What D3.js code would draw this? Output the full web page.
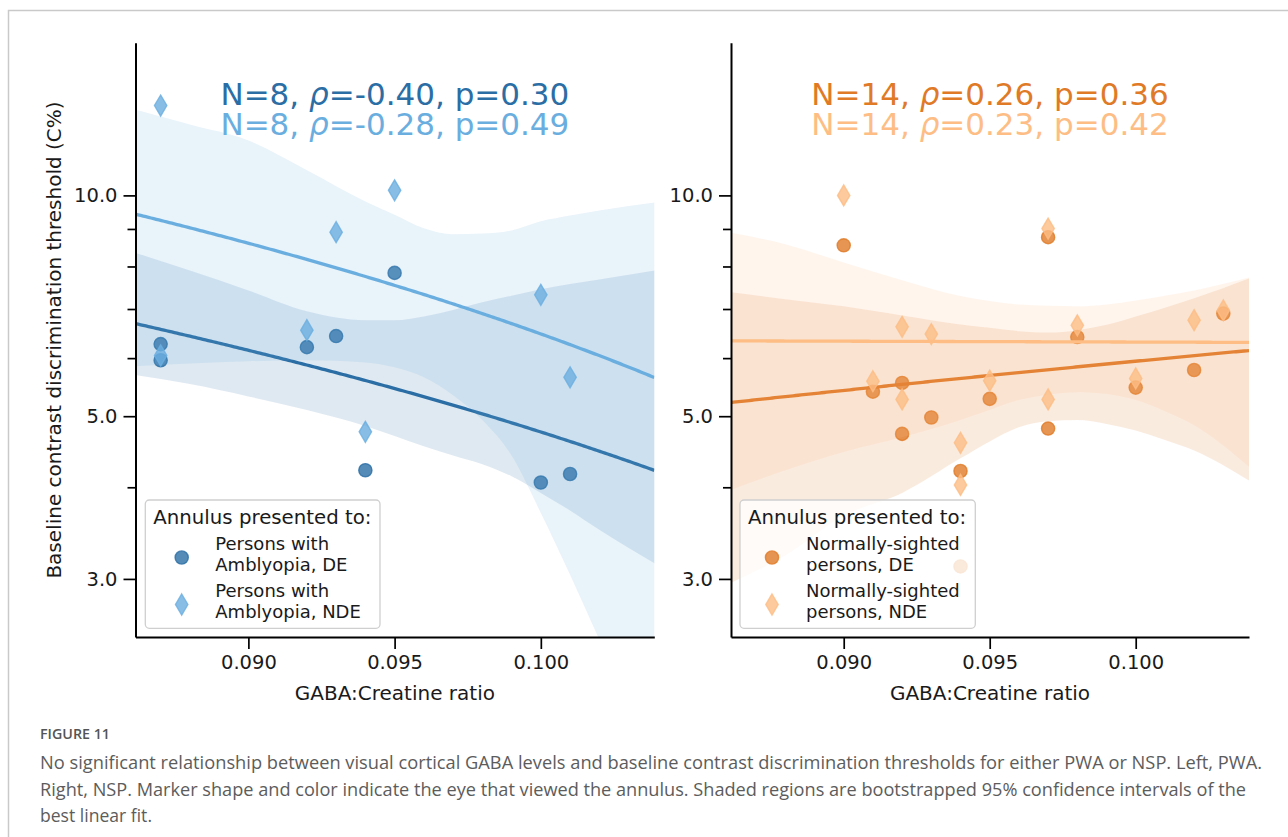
<!DOCTYPE html>
<html><head><meta charset="utf-8">
<script src="https://cdn.jsdelivr.net/npm/d3@7"></script>
<style>
body{margin:0;background:#fff;}
svg{display:block;font-family:"DejaVu Sans",sans-serif;}
</style></head><body>
<svg id="chart" width="1288" height="837"></svg>
<script>
// ---------------- data ----------------
const xTicks = [0.090, 0.095, 0.100];
const yMajorTicks = [3, 5, 10];
const yMinorTicks = [4, 6, 7, 8, 9];

// Persons with amblyopia (left panel)
const pwaDE_x  = [0.087, 0.087, 0.092, 0.093, 0.094, 0.095, 0.100, 0.101];
const pwaDE_y  = [6.27, 5.96, 6.21, 6.43, 4.22, 7.84, 4.06, 4.17];
const pwaNDE_x = [0.087, 0.087, 0.092, 0.093, 0.094, 0.095, 0.100, 0.101];
const pwaNDE_y = [13.26, 6.05, 6.55, 8.91, 4.76, 10.16, 7.32, 5.65];

// Normally-sighted persons (right panel)
const nspDE_x  = [0.090, 0.091, 0.092, 0.092, 0.093, 0.094, 0.094, 0.095, 0.097, 0.097, 0.098, 0.100, 0.102, 0.103];
const nspDE_y  = [8.55, 5.40, 5.55, 4.73, 4.98, 4.21, 3.12, 5.28, 8.77, 4.81, 6.41, 5.47, 5.78, 6.90];
const nspNDE_x = [0.090, 0.091, 0.092, 0.092, 0.093, 0.094, 0.094, 0.095, 0.097, 0.097, 0.098, 0.100, 0.102, 0.103];
const nspNDE_y = [10.0, 5.58, 6.62, 5.27, 6.47, 4.60, 4.03, 5.59, 9.01, 5.27, 6.65, 5.63, 6.76, 6.97];

// bootstrapped 95% CI bands
const bandX = [0.0861, 0.088, 0.090, 0.092, 0.094, 0.095, 0.096, 0.097, 0.098, 0.099, 0.100, 0.101, 0.102, 0.1039];
const pwaDE_hi  = [8.36, 7.90, 7.42, 6.95, 6.76, 6.76, 6.84, 6.98, 7.15, 7.30, 7.45, 7.57, 7.68, 7.90];
const pwaDE_lo  = [5.69, 5.53, 5.32, 5.10, 4.85, 4.70, 4.55, 4.42, 4.30, 4.14, 3.93, 3.72, 3.50, 3.15];
const pwaNDE_hi = [13.1, 12.49, 11.88, 10.82, 9.81, 9.41, 9.02, 8.85, 8.87, 8.96, 9.22, 9.39, 9.54, 9.78];
const pwaNDE_lo = [5.85, 5.90, 5.94, 5.96, 5.92, 5.83, 5.65, 5.34, 4.94, 4.42, 3.69, 3.04, 2.48, 1.70];
const nspDE_hi  = [7.38, 7.22, 7.06, 6.86, 6.67, 6.60, 6.53, 6.50, 6.55, 6.66, 6.84, 7.03, 7.24, 7.71];
const nspDE_lo  = [2.96, 3.23, 3.66, 3.93, 4.38, 4.62, 4.83, 4.92, 4.94, 4.88, 4.78, 4.64, 4.49, 4.08];
const nspNDE_hi = [8.90, 8.58, 8.10, 7.66, 7.29, 7.18, 7.10, 7.07, 7.06, 7.10, 7.19, 7.30, 7.42, 7.73];
const nspNDE_lo = [3.96, 4.22, 4.47, 4.68, 4.94, 5.10, 5.26, 5.35, 5.39, 5.36, 5.26, 5.08, 4.86, 4.26];

const statsPWA = [["N=8, ", "=-0.40, p=0.30"], ["N=8, ", "=-0.28, p=0.49"]];
const statsNSP = [["N=14, ", "=0.26, p=0.36"], ["N=14, ", "=0.23, p=0.42"]];
const legendPWA = [["Persons with", "Amblyopia, DE"], ["Persons with", "Amblyopia, NDE"]];
const legendNSP = [["Normally-sighted", "persons, DE"], ["Normally-sighted", "persons, NDE"]];

const captionLines = [
  "No significant relationship between visual cortical GABA levels and baseline contrast discrimination thresholds for either PWA or NSP. Left, PWA.",
  "Right, NSP. Marker shape and color indicate the eye that viewed the annulus. Shaded regions are bootstrapped 95% confidence intervals of the",
  "best linear fit."
];

// ---------------- layout ----------------
const svg = d3.select("#chart");
const plotTop = 42.7, plotBottom = 637;
const xDomain = [0.08614, 0.10388];
const yDomain = [2.5, 16.15];

svg.append("path").attr("d", "M8.5,837 V10.5 H1288")
  .attr("fill", "none").attr("stroke", "#c9c9c9").attr("stroke-width", 1.5);

function ols(xs, ys) {
  const mx = d3.mean(xs), my = d3.mean(ys);
  let sxy = 0, sxx = 0;
  xs.forEach((v, i) => { sxy += (v - mx) * (ys[i] - my); sxx += (v - mx) ** 2; });
  const b = sxy / sxx;
  return x => my + b * (x - mx);
}

const diamond = "M0,-10.5 L6.2,0 L0,10.5 L-6.2,0 Z";

const panels = [
  { x0: 135.5, x1: 654.3, id: "L",
    series: [
      { xs: pwaDE_x, ys: pwaDE_y, hi: pwaDE_hi, lo: pwaDE_lo, color: "#2b6ea5", shape: "circle" },
      { xs: pwaNDE_x, ys: pwaNDE_y, hi: pwaNDE_hi, lo: pwaNDE_lo, color: "#6aaee0", shape: "diamond" }
    ],
    stats: statsPWA, legend: legendPWA,
    lg: { x: 145.3, w: 234.7, mx: 36.4, tx: 70 } },
  { x0: 731, x1: 1249, id: "R",
    series: [
      { xs: nspDE_x, ys: nspDE_y, hi: nspDE_hi, lo: nspDE_lo, color: "#e07a27", shape: "circle" },
      { xs: nspNDE_x, ys: nspNDE_y, hi: nspNDE_hi, lo: nspNDE_lo, color: "#fdbd84", shape: "diamond" }
    ],
    stats: statsNSP, legend: legendNSP,
    lg: { x: 740, w: 235.3, mx: 32, tx: 66 } }
];

panels.forEach(p => {
  const x = d3.scaleLinear().domain(xDomain).range([p.x0, p.x1]);
  const y = d3.scaleLog().domain(yDomain).range([plotBottom, plotTop]);
  const g = svg.append("g");
  const clipId = "clip" + p.id;
  svg.append("clipPath").attr("id", clipId).append("rect")
    .attr("x", p.x0).attr("y", plotTop).attr("width", p.x1 - p.x0).attr("height", plotBottom - plotTop);
  const plot = g.append("g").attr("clip-path", `url(#${clipId})`);

  const area = d3.area().x(d => x(d[0])).y0(d => y(d[1])).y1(d => y(d[2])).curve(d3.curveMonotoneX);
  const lineGen = d3.line().x(d => x(d[0])).y(d => y(d[1]));
  const xs = d3.range(0, 201).map(i => xDomain[0] + i * (xDomain[1] - xDomain[0]) / 200);

  p.series.forEach(s => {
    plot.append("path")
      .datum(bandX.map((bx, i) => [bx, s.lo[i], s.hi[i]]))
      .attr("d", area).attr("fill", s.color).attr("fill-opacity", 0.15);
    const pts = plot.append("g");
    s.xs.forEach((vx, i) => {
      const common = el => el.attr("fill", s.color).attr("fill-opacity", 0.8)
        .attr("stroke", s.color).attr("stroke-opacity", 0.8).attr("stroke-width", 1.4);
      if (s.shape === "circle") {
        common(pts.append("circle").attr("cx", x(vx)).attr("cy", y(s.ys[i])).attr("r", 6.6));
      } else {
        common(pts.append("path").attr("d", diamond)
          .attr("transform", `translate(${x(vx)},${y(s.ys[i])})`));
      }
    });
    const f = ols(s.xs, s.ys);
    plot.append("path").datum(xs.map(v => [v, f(v)]))
      .attr("d", lineGen).attr("fill", "none").attr("stroke", s.color).attr("stroke-width", 3.3);
  });

  g.append("g").attr("transform", `translate(${p.x0},0)`)
    .call(d3.axisLeft(y).tickValues(yMajorTicks).tickFormat(d3.format(".1f"))
      .tickSizeInner(12).tickSizeOuter(0).tickPadding(6));
  g.append("g").attr("transform", `translate(${p.x0},0)`)
    .call(d3.axisLeft(y).tickValues(yMinorTicks).tickFormat("").tickSizeInner(8).tickSizeOuter(0))
    .select(".domain").remove();
  g.append("g").attr("transform", `translate(0,${plotBottom})`)
    .call(d3.axisBottom(x).tickValues(xTicks).tickFormat(d3.format(".3f"))
      .tickSizeInner(12).tickSizeOuter(0).tickPadding(6));
  g.selectAll(".domain").attr("stroke", "#000").attr("stroke-width", 2);
  g.selectAll(".tick line").attr("stroke", "#000").attr("stroke-width", 1.7);
  g.selectAll(".tick text").attr("font-family", "DejaVu Sans").attr("font-size", 19.5).attr("fill", "#1a1a1a");

  g.append("text").attr("x", (p.x0 + p.x1) / 2).attr("y", 700)
    .attr("text-anchor", "middle").attr("font-size", 20).attr("fill", "#1a1a1a")
    .text("GABA:Creatine ratio");

  p.stats.forEach((st, i) => {
    const t = g.append("text").attr("x", (p.x0 + p.x1) / 2).attr("y", 104.5 + i * 30.5)
      .attr("text-anchor", "middle").attr("font-size", 31).attr("fill", p.series[i].color);
    t.append("tspan").text(st[0]);
    t.append("tspan").attr("font-style", "italic").text("ρ");
    t.append("tspan").text(st[1]);
  });

  const L = p.lg;
  const lg = g.append("g");
  lg.append("rect").attr("x", L.x).attr("y", 500).attr("width", L.w).attr("height", 128.3)
    .attr("rx", 4).attr("fill", "#fff").attr("fill-opacity", 0.8)
    .attr("stroke", "#cfcfcf").attr("stroke-width", 1.3);
  lg.append("text").attr("x", L.x + 8).attr("y", 523.5).attr("font-size", 19.75).attr("fill", "#1a1a1a")
    .text("Annulus presented to:");
  p.legend.forEach((lab, i) => {
    const s = p.series[i];
    const cy = 557.5 + i * 47;
    const mk = s.shape === "circle"
      ? lg.append("circle").attr("cx", L.x + L.mx).attr("cy", cy).attr("r", 6.6)
      : lg.append("path").attr("d", diamond).attr("transform", `translate(${L.x + L.mx},${cy})`);
    mk.attr("fill", s.color).attr("fill-opacity", 0.8).attr("stroke", s.color)
      .attr("stroke-opacity", 0.8).attr("stroke-width", 1.4);
    lab.forEach((ln, j) => {
      lg.append("text").attr("x", L.x + L.tx).attr("y", 550 + i * 47 + j * 21)
        .attr("font-size", 18).attr("fill", "#1a1a1a").text(ln);
    });
  });
});

svg.append("text").attr("transform", "translate(61,340) rotate(-90)")
  .attr("text-anchor", "middle").attr("font-size", 20).attr("fill", "#1a1a1a")
  .text("Baseline contrast discrimination threshold (C%)");

const capFont = "'Liberation Sans Narrow','Open Sans',sans-serif";
svg.append("text").attr("x", 40).attr("y", 739).attr("font-family", capFont)
  .attr("font-size", 14).attr("font-weight", 600).attr("fill", "#555")
  .attr("textLength", 70).attr("lengthAdjust", "spacingAndGlyphs").text("FIGURE 11");
const capW = [1222, 1206, 112];
captionLines.forEach((ln, i) => {
  svg.append("text").attr("x", 40).attr("y", 769 + i * 26.5).attr("font-family", capFont)
    .attr("font-size", 17.5).attr("fill", "#5c5c5c")
    .attr("textLength", capW[i]).attr("lengthAdjust", "spacingAndGlyphs").text(ln);
});
</script></body></html>
